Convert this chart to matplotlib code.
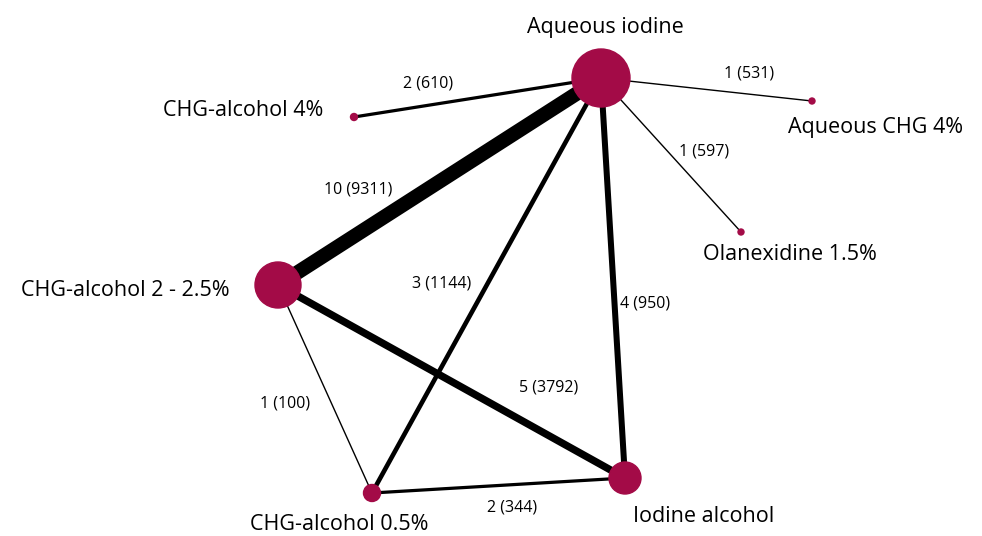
import matplotlib.pyplot as plt
from matplotlib.patches import Circle

plt.rcParams['font.family'] = ['Open Sans', 'DejaVu Sans']

# nodes
names = ["Aqueous iodine", "CHG-alcohol 4%", "Aqueous CHG 4%", "Olanexidine 1.5%",
         "CHG-alcohol 2 - 2.5%", "CHG-alcohol 0.5%", "Iodine alcohol"]
node_x = [601, 354, 812, 741, 278, 372, 625]
node_y = [78, 117, 101, 232, 285, 493, 478]
node_r = [29, 3.5, 3, 3, 23, 8.5, 16]

# edges: (from, to, studies, participants)
edge_from = [0, 0, 0, 0, 0, 0, 4, 4, 5]
edge_to = [1, 2, 3, 4, 5, 6, 5, 6, 6]
studies = [2, 1, 1, 10, 3, 4, 1, 5, 2]
participants = [610, 531, 597, 9311, 1144, 950, 100, 3792, 344]

edge_lab_xy = [(428, 83), (749, 73), (704, 152), (358, 190), (442, 283),
               (645, 303), (285, 403), (549, 388), (512, 508)]
node_lab_xy = [(605, 28), (243, 111), (876, 127), (790, 254),
               (125, 291), (339, 525), (704, 516)]

color = "#A30B47"

fig = plt.figure(figsize=(9.82, 5.36), dpi=100)
ax = fig.add_axes([0, 0, 1, 1])
ax.set_xlim(0, 982)
ax.set_ylim(536, 0)
ax.axis("off")

for a, b, n in zip(edge_from, edge_to, studies):
    lw = 1.0 if n == 1 else n * 1.4 * 0.72 + 0.3
    ax.plot([node_x[a], node_x[b]], [node_y[a], node_y[b]], color="black",
            lw=lw, solid_capstyle="butt", zorder=1)

for x, y, r in zip(node_x, node_y, node_r):
    ax.add_patch(Circle((x, y), r, color=color, zorder=2))

for (x, y), n, p in zip(edge_lab_xy, studies, participants):
    ax.text(x, y, "{} ({})".format(n, p), ha="center", va="center", fontsize=11.5, zorder=3)

for (x, y), name in zip(node_lab_xy, names):
    ax.text(x, y, name, ha="center", va="center", fontsize=15.5, zorder=3)

fig.savefig("out.png", dpi=100)
